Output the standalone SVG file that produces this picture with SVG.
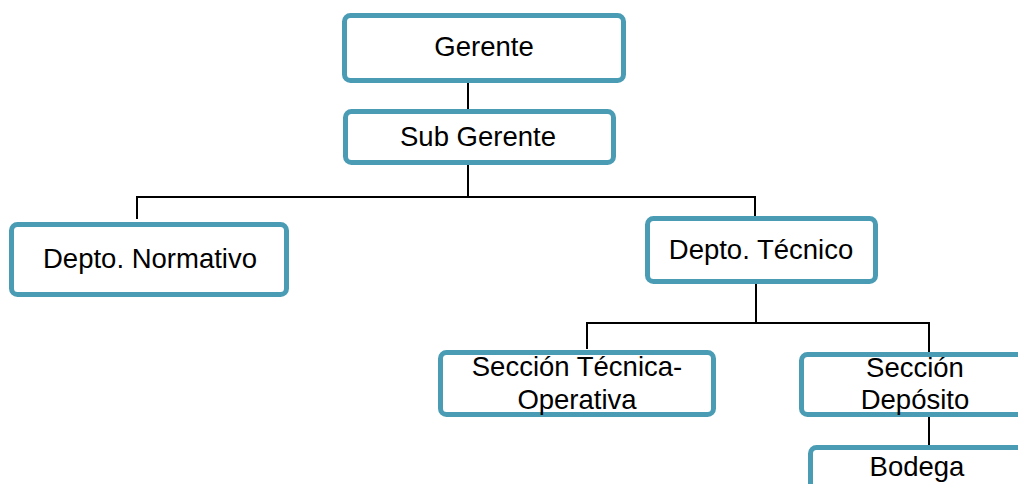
<svg xmlns="http://www.w3.org/2000/svg" width="1018" height="484" viewBox="0 0 1018 484">
  <style>
    .box { fill: #ffffff; stroke: #4A9CB5; stroke-width: 5; }
    .lbl { font-family: "Liberation Sans", Arial, sans-serif; font-size: 27.5px; fill: #000000; text-anchor: middle; }
    .link { fill: none; stroke: #000000; stroke-width: 2; }
  </style>
  <rect width="1018" height="484" fill="#ffffff"/>

  <g id="connectors">
    <path class="link" d="M468 83 V109"/>
    <path class="link" d="M468 165 V197"/>
    <path class="link" d="M137 219 V197 H755 V218"/>
    <path class="link" d="M756 284 V323"/>
    <path class="link" d="M587 349 V323 H929 V352"/>
    <path class="link" d="M929 417 V447"/>
  </g>

  <g id="gerente">
    <rect class="box" x="344.5" y="15.5" width="279" height="65" rx="6"/>
    <text class="lbl" x="484" y="56">Gerente</text>
  </g>

  <g id="sub-gerente">
    <rect class="box" x="345.5" y="111.5" width="268" height="51" rx="6"/>
    <text class="lbl" x="478" y="146">Sub Gerente</text>
  </g>

  <g id="depto-normativo">
    <rect class="box" x="11.5" y="224.5" width="275" height="70" rx="6"/>
    <text class="lbl" x="150" y="268">Depto. Normativo</text>
  </g>

  <g id="depto-tecnico">
    <rect class="box" x="647.5" y="218.5" width="228" height="63" rx="6"/>
    <text class="lbl" x="761" y="259">Depto. Técnico</text>
  </g>

  <g id="seccion-tecnica-operativa">
    <rect class="box" x="440.5" y="352.5" width="273" height="62" rx="6"/>
    <text class="lbl" x="577" y="376">Sección Técnica-</text>
    <text class="lbl" x="577" y="409">Operativa</text>
  </g>

  <g id="seccion-deposito">
    <rect class="box" x="801.5" y="354.5" width="228" height="60" rx="6"/>
    <text class="lbl" x="915" y="377">Sección</text>
    <text class="lbl" x="915" y="409">Depósito</text>
  </g>

  <g id="bodega">
    <rect class="box" x="810.5" y="447.5" width="230" height="60" rx="6"/>
    <text class="lbl" x="917" y="476">Bodega</text>
  </g>
</svg>
